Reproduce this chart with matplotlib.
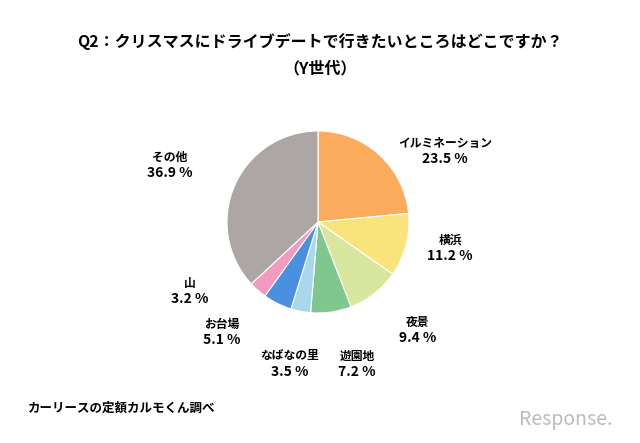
import matplotlib
matplotlib.use("Agg")
import matplotlib.pyplot as plt

labels = ["イルミネーション", "横浜", "夜景", "遊園地", "なばなの里", "お台場", "山", "その他"]
values = [23.5, 11.2, 9.4, 7.2, 3.5, 5.1, 3.2, 36.9]
colors = ["#fbab5c", "#f8e47a", "#d8e6a0", "#7fc78e", "#a9d8ec", "#4a8fe0", "#f29ac0", "#aca6a4"]
label_pos = [(445, 143), (450, 240), (418, 322), (357, 356), (290, 356), (222, 324), (190, 283), (170, 157)]

plt.rcParams["font.family"] = "Noto Sans CJK JP"
fig = plt.figure(figsize=(6.4, 4.43), dpi=100)
W, H = 640, 443
cx, cy, r = 318, 222, 91
ax = fig.add_axes([(cx - r) / W, 1 - (cy + r) / H, 2 * r / W, 2 * r / H])
ax.pie(values, colors=colors, startangle=90, counterclock=False,
       wedgeprops=dict(edgecolor="white", linewidth=0.8))
ax.set_xlim(-1, 1)
ax.set_ylim(-1, 1)
ax.set_aspect("equal")

fig.text(0.5, 1 - 42 / H, "Q2：クリスマスにドライブデートで行きたいところはどこですか？", ha="center", va="center", fontsize=11.5, fontweight="bold")
fig.text(0.5, 1 - 68 / H, "（Y世代）", ha="center", va="center", fontsize=11.5, fontweight="bold")
for lab, v, (x, y) in zip(labels, values, label_pos):
    fig.text(x / W, 1 - y / H, lab, ha="center", va="center", fontsize=8.5, fontweight="bold")
    fig.text(x / W, 1 - (y + 16) / H, f"{v:.1f} %", ha="center", va="center", fontsize=10, fontweight="bold")
fig.text(28 / W, 1 - 408 / H, "カーリースの定額カルモくん調べ", ha="left", va="center", fontsize=9, fontweight="bold")
fig.text(612 / W, 1 - 420 / H, "Response.", ha="right", va="center", fontsize=14, color="#bbbbbb", style="italic")
fig.savefig("out.png", dpi=100, facecolor="white")
